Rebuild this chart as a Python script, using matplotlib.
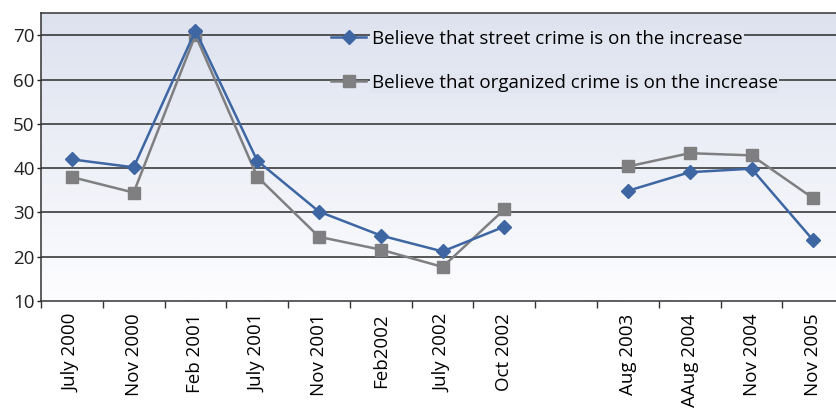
import numpy as np
import matplotlib.pyplot as plt

plt.rcParams['font.family'] = ['Open Sans', 'DejaVu Sans']

# survey waves (blank slot = no survey in 2003 H1)
periods = ["July 2000", "Nov 2000", "Feb 2001", "July 2001", "Nov 2001", "Feb2002",
           "July 2002", "Oct 2002", "", "Aug 2003", "AAug 2004", "Nov 2004", "Nov 2005"]
street_crime = [42.0, 40.2, 71.1, 41.7, 30.2, 24.8, 21.2, 26.8, np.nan, 34.9, 39.1, 39.9, 23.7]
organized_crime = [38.0, 34.5, 70.1, 38.1, 24.5, 21.6, 17.7, 30.7, np.nan, 40.4, 43.4, 42.9, 33.2]

blue = '#3d66a3'
grey = '#7f7f81'

fig = plt.figure(figsize=(8.36, 4.12), dpi=100)
ax = fig.add_axes([0.049, 0.2694, 0.9608, 0.6983])

x = np.arange(len(periods))
ax.set_xlim(-0.5, len(periods) - 0.5)
ax.set_ylim(10, 75)

# soft vertical gradient behind the plot (bluish top -> white bottom)
grad = np.linspace(0, 1, 256).reshape(-1, 1)
top_c = np.array([221, 226, 239]) / 255
bot_c = np.array([253, 253, 255]) / 255
img = top_c + (bot_c - top_c) * grad
ax.imshow(img[:, None, :].repeat(2, axis=1), extent=(-0.5, len(periods) - 0.5, 10, 75),
          origin='upper', aspect='auto', zorder=0)

for yv in range(20, 80, 10):
    ax.axhline(yv, color='#2b2b2b', lw=1.1, zorder=1)

ax.plot(x, street_crime, color=blue, lw=1.8, marker='D', markersize=7.5,
        label='Believe that street crime is on the increase', zorder=4)
ax.plot(x, organized_crime, color=grey, lw=1.8, marker='s', markersize=9,
        label='Believe that organized crime is on the increase', zorder=3)

ax.set_yticks(range(10, 80, 10))
ax.tick_params(axis='y', length=3, width=1, labelsize=13.5, pad=1.5, colors='#222222')
ax.set_xticks(x)
ax.set_xticklabels(periods, rotation=90, fontsize=13.5)
ax.set_xticks(np.arange(-0.5, len(periods), 1), minor=True)
ax.tick_params(axis='x', which='major', length=0, pad=9)
ax.tick_params(axis='x', which='minor', length=5, width=1, color='#333333')

for side in ['left', 'bottom', 'top']:
    ax.spines[side].set_color('#333333')
    ax.spines[side].set_linewidth(1.1)
ax.spines['right'].set_visible(False)

leg = ax.legend(loc='upper left', bbox_to_anchor=(0.3615, 0.942), frameon=False,
                fontsize=13.5, handlelength=1.85, handletextpad=0.3,
                labelspacing=1.38, borderaxespad=0, borderpad=0)
leg.set_zorder(5)
for t in leg.get_texts():
    t.set_bbox(dict(facecolor='#e1e5f0', edgecolor='none', pad=1))

fig.savefig('out.png', dpi=100)
